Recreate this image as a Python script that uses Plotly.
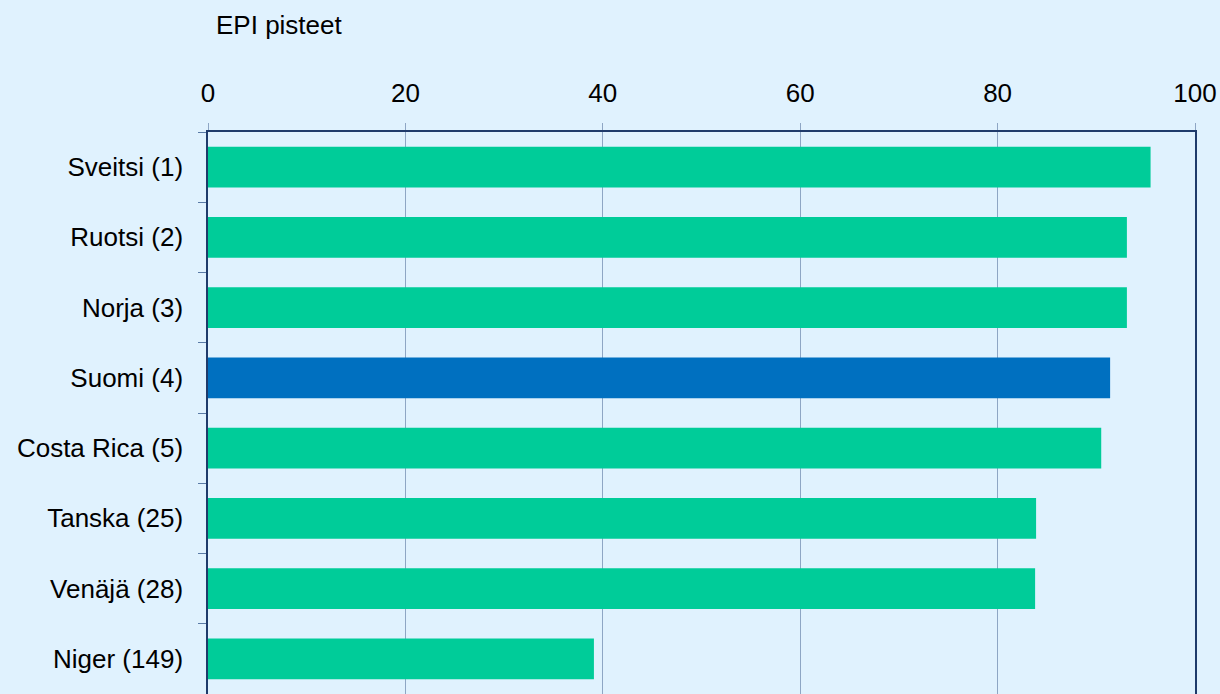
import plotly.graph_objects as go

countries = ["Sveitsi (1)", "Ruotsi (2)", "Norja (3)", "Suomi (4)", "Costa Rica (5)",
             "Tanska (25)", "Venäjä (28)", "Niger (149)"]
scores = [95.5, 93.1, 93.1, 91.4, 90.5, 83.9, 83.8, 39.1]
highlight = "Suomi (4)"
x_ticks = [0, 20, 40, 60, 80, 100]

GREEN = "#00CC99"
BLUE = "#0070C0"
BG = "#E0F2FE"
NAVY = "#1F3B6B"
GRID = "#8EA6C4"

W, H = 1220, 694
ML, MR, MT, MB = 208, 25, 132, 0
plot_w = W - ML - MR
plot_h = H - MT - MB

colors = [BLUE if c == highlight else GREEN for c in countries]

fig = go.Figure(go.Bar(
    x=scores, y=countries, orientation="h",
    marker=dict(color=colors, line=dict(width=0)),
    hoverinfo="x+y",
))

fig.update_layout(
    width=W, height=H,
    paper_bgcolor=BG, plot_bgcolor=BG,
    margin=dict(l=ML, r=MR, t=MT, b=MB),
    bargap=0.42,
    showlegend=False,
    font=dict(family="Liberation Sans, Arial, sans-serif", size=26, color="#000000"),
    xaxis=dict(
        side="top", range=[0, 100], tickvals=x_ticks,
        showgrid=True, gridcolor=GRID, gridwidth=1,
        showline=True, linecolor=NAVY, linewidth=1.5,
        ticks="outside", ticklen=7, tickcolor=GRID, tickwidth=1,
        ticklabelstandoff=11,
        zeroline=False, fixedrange=True,
    ),
    yaxis=dict(
        categoryorder="array", categoryarray=countries[::-1],
        autorange=False, range=[-0.5, len(countries) - 0.5],
        showline=True, linecolor=NAVY, linewidth=1.5, mirror=True,
        ticks="outside", tickson="boundaries", ticklen=8, tickcolor="#5A7BA6", tickwidth=1,
        ticklabelstandoff=18,
        showgrid=False, zeroline=False, fixedrange=True,
    ),
    annotations=[dict(
        text="EPI pisteet", xref="paper", yref="paper",
        x=(214 - ML) / plot_w, y=(H - 25) / plot_h,
        xanchor="left", yanchor="middle", showarrow=False,
        font=dict(size=26, color="#000000"),
    )],
)

fig.write_html(
    "out.html",
    config={"displayModeBar": False},
    post_script="document.body.style.margin='0';document.body.style.background='" + BG + "';",
)
